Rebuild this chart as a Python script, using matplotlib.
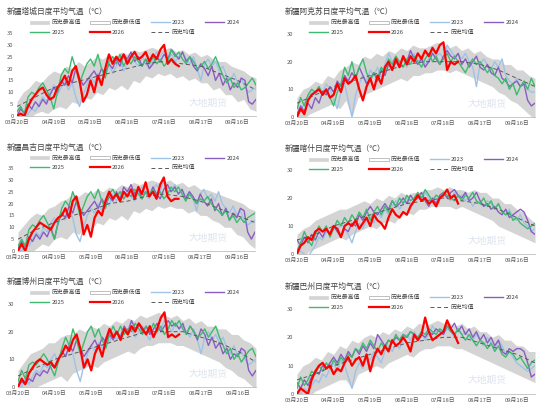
import numpy as np
import matplotlib
matplotlib.use("Agg")
import matplotlib.pyplot as plt
from matplotlib.patches import Patch
from matplotlib.lines import Line2D

plt.rcParams['font.family'] = ['Noto Sans CJK SC', 'DejaVu Sans']

# ---------------- data ----------------
# day offsets from 03月20日
BAND_DAYS = np.arange(0, 196, 5)
LINE_DAYS = np.arange(0, 196, 3)
RED_DAYS = np.arange(0, 133, 3)
AVG_DAYS = np.arange(0, 196, 15)
TICK_DAYS = [0, 30, 60, 90, 120, 150, 180]
TICK_LABELS = ['03月20日', '04月19日', '05月19日', '06月18日', '07月18日', '08月17日', '09月16日']
LEGEND_LABELS = ['历史最高值', '历史最低值', '2023', '2024', '2025', '2026', '历史均值']

# 塔城
TC_MAX = [6,10,12,15,14,17,19,18,21,20,23,21,23,25,24,26,25,27,26,28,27,28,29,28,28,29,27,28,26,27,25,26,24,23,23,21,20,19,17,16]
TC_MIN = [-1,0,-1,1,2,1,3,4,3,6,5,8,7,10,9,12,11,13,11,15,14,17,16,18,17,18,16,17,15,16,14,14,11,12,9,9,6,7,3,2]
TC_AVG = [4,8,12,14,16,18,20,22,23,22,21,18,15,11]
TC_2023 = [2,0,-1,1,3,2,5,8,6,10,13,9,12,15,11,14,8,4,9,13,17,14,18,15,19,22,18,21,24,19,22,26,23,21,25,22,20,24,27,25,28,24,26,23,25,27,24,22,25,20,15,22,24,21,23,19,21,17,15,18,14,16,12,10,11,12]
TC_2024 = [0,3,1,5,3,6,4,7,5,9,12,10,15,13,17,14,20,16,13,15,17,19,16,20,18,22,20,24,21,26,24,27,23,25,21,24,20,22,25,23,26,24,28,26,24,27,23,25,21,19,22,20,17,21,15,18,13,16,11,14,12,16,15,6,5,7]
TC_2025 = [2,4,1,8,10,9,12,14,11,8,3,10,17,20,18,25,20,14,18,22,24,21,26,20,16,23,25,22,26,21,24,22,25,23,21,24,22,25,22,24,21,23,28,25,27,24,22,25,23,20,21,23,20,22,25,21,17,14,16,12,14,11,12,14,16,13]
TC_2026 = [0,1,0,4,7,9,11,12,9,7,8,12,14,17,13,19,21,15,6,9,15,10,17,13,20,26,22,25,23,26,22,25,27,24,25,27,23,26,24,28,30,22,24,22,21]

# 阿克苏
AKS_MAX = [7,10,11,13,12,15,14,17,18,20,19,22,21,23,22,24,23,25,24,26,25,25,26,27,26,25,26,24,25,23,24,22,21,21,19,19,17,17,15,14]
AKS_MIN = [0,-1,1,2,3,4,5,3,6,0,7,8,9,10,11,12,13,14,13,15,15,16,16,17,17,16,17,16,15,14,13,12,11,9,8,6,5,3,1,-1]
AKS_AVG = [5,8,11,13,15,17,19,20,20,20,19,17,14,11]
AKS_2023 = [4,2,5,7,9,8,11,9,12,10,6,3,9,12,6,0,8,12,15,13,17,15,18,14,19,23,20,22,19,21,18,21,23,20,22,19,21,24,22,23,21,26,24,22,23,21,23,20,18,11,19,21,19,17,20,18,21,15,13,12,14,11,12,10,9,9]
AKS_2024 = [1,4,2,5,3,7,5,9,8,11,9,13,11,15,13,16,14,18,15,12,14,16,13,17,15,19,17,20,18,22,20,24,21,19,21,18,20,23,21,19,22,24,22,21,23,19,21,18,20,22,18,17,19,16,15,18,14,13,11,12,13,11,12,6,4,5]
AKS_2025 = [3,7,4,8,10,9,11,8,10,7,4,9,12,18,15,20,14,18,21,16,13,16,14,18,16,21,19,22,20,18,21,19,22,20,18,21,23,20,22,19,21,23,20,22,20,18,16,19,21,19,20,18,16,18,15,14,12,14,10,12,8,11,13,10,14,11]
AKS_2026 = [0,3,1,6,8,9,10,8,10,7,8,12,9,14,12,13,15,10,6,11,14,10,15,12,18,20,17,21,18,22,19,22,20,23,21,24,22,25,23,26,27,17,20,19,20]

# 昌吉
CJ_MAX = [8,11,14,16,15,18,19,21,22,24,23,25,24,26,25,27,26,28,27,29,28,29,30,29,29,30,28,29,27,28,26,26,25,24,23,22,21,20,18,17]
CJ_MIN = [-1,0,-1,1,3,2,5,6,5,8,7,10,9,12,11,14,13,15,13,17,16,18,17,19,18,19,18,18,16,17,15,15,13,12,10,10,7,6,3,1]
CJ_AVG = [5,9,12,15,17,20,21,23,24,23,21,18,15,12]
CJ_2023 = [1,0,3,2,5,8,6,10,8,12,14,11,16,13,18,14,7,4,10,15,18,16,20,17,22,19,24,21,25,22,26,23,21,25,27,24,22,26,28,25,30,27,25,28,24,26,23,25,22,17,24,26,22,24,21,25,20,18,16,19,15,17,13,11,12,13]
CJ_2024 = [1,4,2,6,4,7,5,8,6,10,5,12,16,14,19,16,21,18,15,17,19,21,18,22,19,23,21,25,22,27,25,28,24,26,22,25,23,27,24,22,26,28,25,27,24,26,22,25,23,20,24,21,19,22,17,20,15,18,13,16,14,18,17,8,5,8]
CJ_2025 = [2,5,2,9,11,10,13,15,12,9,5,12,18,21,19,25,21,15,19,23,25,22,26,21,18,24,26,23,25,22,24,23,26,24,22,25,23,26,23,25,22,24,27,25,27,24,21,24,22,20,22,21,23,20,18,17,15,17,13,15,12,14,12,14,15,16]
CJ_2026 = [0,3,0,5,8,10,12,11,10,9,12,14,15,18,14,21,23,17,7,11,6,14,17,15,21,25,22,24,21,25,23,26,22,27,24,29,23,25,22,28,31,23,21,22,22]

# 喀什
KS_MAX = [7,9,10,12,13,14,15,16,16,17,18,19,18,20,19,21,20,22,21,22,22,23,23,24,23,24,23,23,22,23,22,22,20,20,18,18,16,15,13,11]
KS_MIN = [0,-1,1,2,3,4,5,6,5,7,8,9,10,9,11,12,11,14,15,14,16,16,17,17,17,17,16,17,16,15,14,13,12,10,9,8,7,6,5,4]
KS_AVG = [5,7,10,12,14,16,18,19,20,19,18,16,13,10]
KS_2023 = [2,1,0,-1,1,3,6,5,8,7,10,8,11,9,7,4,8,11,9,12,14,11,15,13,16,14,17,19,16,18,20,17,19,21,19,22,20,19,21,20,22,21,19,22,20,21,19,20,17,19,18,17,19,18,16,18,15,14,16,13,12,14,11,10,8,9]
KS_2024 = [5,3,6,4,7,5,8,6,9,7,10,8,6,9,8,11,10,14,12,15,17,15,14,16,18,16,19,17,18,20,18,21,19,20,22,19,17,20,18,21,22,20,22,23,21,20,22,19,20,22,19,17,18,16,17,15,14,16,13,14,15,16,15,12,8,7]
KS_2025 = [1,4,8,5,3,7,10,8,10,6,9,12,10,13,11,14,12,15,13,16,12,15,17,14,17,15,19,17,20,18,21,19,20,22,20,23,21,19,21,20,22,21,20,19,21,19,21,20,22,19,18,20,17,19,16,18,15,14,15,12,13,11,10,9,10,11]
KS_2026 = [0,3,4,6,5,8,9,8,9,7,10,9,6,10,11,10,12,9,11,13,10,14,12,11,9,13,16,14,13,15,14,17,19,21,19,20,18,19,17,20,21,23,20,21,18]

# 博州
BZ_MAX = [6,9,12,13,14,16,16,18,19,19,21,20,22,21,23,22,24,23,25,24,26,25,26,27,26,25,26,24,25,23,24,22,22,21,21,19,19,17,16,14]
BZ_MIN = [-1,0,-1,0,1,2,3,4,2,5,6,7,8,7,9,10,11,12,13,12,14,15,15,16,16,16,15,15,14,13,12,11,10,9,7,6,4,3,1,-1]
BZ_AVG = [4,7,10,12,14,16,18,20,20,20,18,16,13,9]
BZ_2023 = [1,0,3,1,4,6,5,8,7,10,12,9,13,11,15,12,6,2,8,12,15,13,16,14,18,16,20,17,19,22,19,21,18,20,22,19,17,21,23,21,24,22,20,23,21,22,20,18,21,17,12,18,20,17,19,16,18,14,12,15,11,13,10,8,9,10]
BZ_2024 = [0,2,1,3,2,5,4,6,5,8,7,10,13,11,15,13,17,14,11,13,15,17,14,18,16,19,17,20,18,22,20,24,21,23,20,22,19,21,23,20,22,24,22,23,21,23,19,22,20,17,21,19,15,18,14,16,12,14,10,12,11,14,13,6,4,6]
BZ_2025 = [2,6,3,8,9,8,10,12,10,7,4,9,14,18,15,21,17,12,16,20,22,18,21,17,14,19,22,19,22,19,21,20,23,21,19,22,20,23,20,22,19,21,24,22,24,21,19,22,20,18,19,21,18,20,22,18,15,12,14,10,12,9,11,13,14,11]
BZ_2026 = [0,3,1,5,7,9,10,9,8,9,7,10,12,15,13,17,19,14,7,10,6,12,15,11,17,21,18,20,17,21,19,22,20,23,21,19,22,18,21,25,27,18,19,18,19]

# 巴州
BAZ_MAX = [7,10,11,13,12,15,14,17,16,19,18,20,21,20,22,21,23,22,24,23,25,24,25,26,25,25,24,25,23,24,22,22,20,21,19,19,17,17,15,15]
BAZ_MIN = [-1,0,-1,1,2,3,4,5,5,2,7,8,9,10,9,11,12,13,14,13,15,16,16,17,17,17,16,16,15,14,13,12,11,10,9,8,7,6,5,4]
BAZ_AVG = [5,7,10,12,14,16,18,19,20,20,18,16,14,11]
BAZ_2023 = [1,0,2,1,3,5,4,7,6,9,11,8,12,10,6,2,8,11,9,13,12,15,13,11,15,17,15,18,16,19,21,19,22,20,22,19,21,24,22,23,21,23,22,20,23,21,22,20,19,21,19,17,20,18,16,19,17,14,15,13,11,10,9,8,9,10]
BAZ_2024 = [4,2,5,3,6,8,7,10,9,11,13,11,14,12,15,13,16,14,17,15,18,16,21,19,17,19,18,20,19,21,20,22,21,19,21,20,22,21,23,22,21,24,23,25,22,24,21,23,20,22,19,21,18,20,17,19,15,14,16,15,16,16,15,11,6,7]
BAZ_2025 = [2,6,3,5,8,7,10,8,11,9,12,10,13,11,14,13,16,15,18,16,19,17,15,18,16,19,18,21,19,21,20,22,21,20,22,21,23,22,21,23,22,24,22,21,23,21,19,21,19,17,19,18,16,18,15,17,14,13,15,14,12,13,11,9,11,12]
BAZ_2026 = [0,2,1,0,5,8,10,11,9,10,7,9,8,11,13,10,12,13,10,14,8,13,16,14,17,15,19,17,18,20,18,15,21,19,21,27,22,19,20,21,22,26,23,21,18]

TITLES = ['新疆塔城日度平均气温（℃）', '新疆阿克苏日度平均气温（℃）', '新疆昌吉日度平均气温（℃）',
          '新疆喀什日度平均气温（℃）', '新疆博州日度平均气温（℃）', '新疆巴州日度平均气温（℃）']

PANELS = [
    (TC_MAX, TC_MIN, TC_AVG, TC_2023, TC_2024, TC_2025, TC_2026, 35, 5),
    (AKS_MAX, AKS_MIN, AKS_AVG, AKS_2023, AKS_2024, AKS_2025, AKS_2026, 30, 10),
    (CJ_MAX, CJ_MIN, CJ_AVG, CJ_2023, CJ_2024, CJ_2025, CJ_2026, 35, 5),
    (KS_MAX, KS_MIN, KS_AVG, KS_2023, KS_2024, KS_2025, KS_2026, 30, 10),
    (BZ_MAX, BZ_MIN, BZ_AVG, BZ_2023, BZ_2024, BZ_2025, BZ_2026, 30, 10),
    (BAZ_MAX, BAZ_MIN, BAZ_AVG, BAZ_2023, BAZ_2024, BAZ_2025, BAZ_2026, 30, 10),
]

# ---------------- layout (pixels) ----------------
W, H = 550, 415
AX_PX = [(17, 256, 116, 33), (297, 535, 117, 34),
         (18, 255, 251, 168), (297, 535, 254, 170),
         (18, 256, 387, 304), (297, 535, 394, 309)]
TITLE_PX = [(7, 12), (285, 12), (7, 148), (285, 149), (7, 282), (285, 287)]
LEG_PX = [(30, 27.5), (309, 27.5), (30, 163), (309, 164.5), (30, 297.5), (309, 302.5)]

C_BAND = '#d4d4d4'
C_2023 = '#9fc2e7'
C_2024 = '#8a5cc2'
C_2025 = '#3dbb70'
C_2026 = '#ff0000'
C_AVG = '#595959'
C_TXT = '#595959'

fig = plt.figure(figsize=(W / 100, H / 100), dpi=100)
fig.patch.set_facecolor('white')

for i, (mx, mn, avg, y23, y24, y25, y26, ymax, ystep) in enumerate(PANELS):
    l, r, y0, yt = AX_PX[i]
    ax = fig.add_axes([l / W, 1 - y0 / H, (r - l) / W, (y0 - yt) / H])
    ax.fill_between(BAND_DAYS, mn, mx, color=C_BAND, lw=0, zorder=1)
    ax.plot(LINE_DAYS, y23, color=C_2023, lw=1.0, zorder=2)
    ax.plot(LINE_DAYS, y24, color=C_2024, lw=1.0, zorder=3)
    ax.plot(LINE_DAYS, y25, color=C_2025, lw=1.0, zorder=4)
    ax.plot(AVG_DAYS, avg, color=C_AVG, lw=0.7, ls=(0, (4, 3)), zorder=5)
    ax.plot(RED_DAYS, y26, color=C_2026, lw=1.6, zorder=6)
    ax.set_xlim(0, 195)
    ax.set_ylim(0, ymax)
    ax.set_yticks(np.arange(0, ymax + 0.1, ystep))
    ax.set_xticks(TICK_DAYS)
    ax.set_xticklabels(TICK_LABELS)
    ax.tick_params(axis='both', length=0, labelsize=4.2, colors=C_TXT, pad=2.5)
    for s in ['top', 'right', 'left']:
        ax.spines[s].set_visible(False)
    ax.spines['bottom'].set_color('#bfbfbf')
    ax.spines['bottom'].set_linewidth(0.6)
    ax.set_facecolor('none')
    # watermark
    ax.text(0.80, 0.16, '大地期货', transform=ax.transAxes, ha='center', va='center',
            fontsize=7, color='#dde4ee', zorder=0)

    tx, ty = TITLE_PX[i]
    fig.text(tx / W, 1 - ty / H, TITLES[i], fontsize=5.6, color='#404040', ha='left', va='center')

    h_max = Patch(facecolor=C_BAND, edgecolor=C_BAND, lw=0.5)
    h_min = Patch(facecolor='white', edgecolor='#a6a6a6', lw=0.5)
    h23 = Line2D([], [], color=C_2023, lw=1.0)
    h24 = Line2D([], [], color=C_2024, lw=1.0)
    h25 = Line2D([], [], color=C_2025, lw=1.0)
    h26 = Line2D([], [], color=C_2026, lw=1.6)
    havg = Line2D([], [], color=C_AVG, lw=0.7, ls=(0, (4, 3)))
    handles = [h_max, h25, h_min, h26, h23, havg, h24]
    labels = [LEGEND_LABELS[k] for k in [0, 4, 1, 5, 2, 6, 3]]
    lx, ly = LEG_PX[i]
    ax.legend(handles, labels, ncol=4, loc='center left',
              bbox_to_anchor=(lx / W, 1 - ly / H), bbox_transform=fig.transFigure,
              frameon=False, fontsize=4.2, handlelength=3.3, handleheight=0.5,
              handletextpad=0.4, columnspacing=1.6, labelspacing=0.75,
              borderpad=0, borderaxespad=0, labelcolor='#404040')

fig.savefig('out.png', dpi=100, facecolor='white')
